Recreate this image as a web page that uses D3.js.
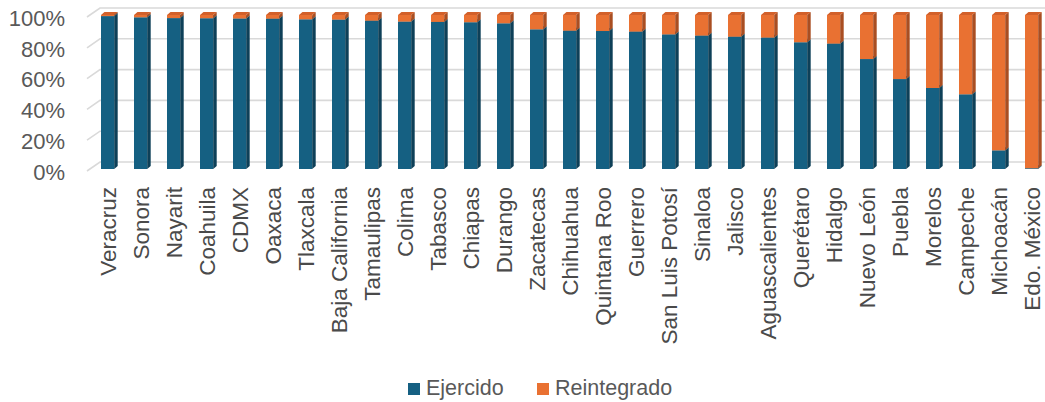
<!DOCTYPE html>
<html>
<head>
<meta charset="utf-8">
<script src="https://cdn.jsdelivr.net/npm/d3@7"></script>
<style>
  html, body { margin: 0; padding: 0; background: #fff; }
  svg { display: block; font-family: "Liberation Sans", Arial, sans-serif; }
</style>
</head>
<body>
<svg id="chart" width="1045" height="402"></svg>
<script>
// ── Data ───────────────────────────────────────────────────────────────────
const estados = [
  "Veracruz", "Sonora", "Nayarit", "Coahuila", "CDMX", "Oaxaca", "Tlaxcala",
  "Baja California", "Tamaulipas", "Colima", "Tabasco", "Chiapas", "Durango",
  "Zacatecas", "Chihuahua", "Quintana Roo", "Guerrero", "San Luis Potosí",
  "Sinaloa", "Jalisco", "Aguascalientes", "Querétaro", "Hidalgo", "Nuevo León",
  "Puebla", "Morelos", "Campeche", "Michoacán", "Edo. México"
];
// % ejercido (the rest is reintegrado)
const ejercido = [
  99.3, 98.5, 98.0, 97.9, 97.7, 97.6, 97.2,
  97.0, 96.3, 95.7, 95.5, 95.3, 94.6,
  90.7, 89.8, 89.6, 89.2, 87.4,
  86.6, 85.9, 85.3, 82.3, 81.4, 71.4,
  58.4, 52.6, 48.5, 12.1, 0.5
];
const reintegrado = ejercido.map(v => 100 - v);
const yTicks = [0, 20, 40, 60, 80, 100];
const series = ["Ejercido", "Reintegrado"];

// ── Setup ──────────────────────────────────────────────────────────────────
const W = 1045, H = 402;
const svg = d3.select("#chart");

const colors = {
  Ejercido:    { front: "#156082", side: "#0e4058", top: "#1b6f95" },
  Reintegrado: { front: "#e97132", side: "#a94e22", top: "#d2602a" },
};
const depth = { dx: 3.5, dy: -3 };     // bar depth
const wall  = { dx: 13, dy: -9 };      // back-wall offset for gridlines

const x = d3.scaleBand()
  .domain(estados)
  .range([84.5, 1054.7])
  .paddingInner(0.6)
  .paddingOuter(0.5);

const y = d3.scaleLinear().domain([0, 100]).range([169, 15]);

// ── Gridlines (3D wall style) ───────────────────────────────────────────────
const gx0 = 87;
svg.append("g")
  .selectAll("path")
  .data(yTicks)
  .join("path")
  .attr("d", t => {
    const yf = y(t) + 2;
    return `M${gx0},${yf} L${gx0 + wall.dx},${yf + wall.dy} L${W},${yf + wall.dy}`;
  })
  .attr("fill", "none")
  .attr("stroke", "#d9d9d9")
  .attr("stroke-width", 1.6);

// ── Y labels ───────────────────────────────────────────────────────────────
svg.append("g")
  .selectAll("text")
  .data(yTicks)
  .join("text")
  .attr("x", 65)
  .attr("y", t => y(t) + 3)
  .attr("dy", "0.35em")
  .attr("text-anchor", "end")
  .attr("font-size", 22)
  .attr("fill", "#595959")
  .text(t => t + "%");

// ── Stacked 3D bars ────────────────────────────────────────────────────────
const rows = estados.map((e, i) => ({ estado: e, Ejercido: ejercido[i], Reintegrado: reintegrado[i] }));
const stacked = d3.stack().keys(series)(rows);

const bw = x.bandwidth();
const layers = svg.append("g")
  .selectAll("g")
  .data(stacked)
  .join("g")
  .attr("data-series", d => d.key);

layers.each(function (layer) {
  const c = colors[layer.key];
  const g = d3.select(this);
  const segs = layer.map(d => ({ estado: d.data.estado, y0: d[0], y1: d[1] }))
    .filter(d => d.y1 - d.y0 > 0.05);

  // front face
  g.selectAll("rect.front")
    .data(segs)
    .join("rect")
    .attr("class", "front")
    .attr("x", d => x(d.estado))
    .attr("y", d => y(d.y1))
    .attr("width", bw)
    .attr("height", d => y(d.y0) - y(d.y1))
    .attr("fill", c.front);

  // right side face
  g.selectAll("path.side")
    .data(segs)
    .join("path")
    .attr("class", "side")
    .attr("d", d => {
      const xr = x(d.estado) + bw, yt = y(d.y1), yb = y(d.y0);
      return `M${xr},${yb} L${xr},${yt} L${xr + depth.dx},${yt + depth.dy} L${xr + depth.dx},${yb + depth.dy} Z`;
    })
    .attr("fill", c.side);

  // top face
  g.selectAll("path.top")
    .data(segs)
    .join("path")
    .attr("class", "top")
    .attr("d", d => {
      const xl = x(d.estado), yt = y(d.y1);
      return `M${xl},${yt} L${xl + bw},${yt} L${xl + bw + depth.dx},${yt + depth.dy} L${xl + depth.dx},${yt + depth.dy} Z`;
    })
    .attr("fill", c.top);
});

// ── Category labels ────────────────────────────────────────────────────────
svg.append("g")
  .selectAll("text")
  .data(estados)
  .join("text")
  .attr("transform", d => `translate(${x(d) + bw / 2 + 1},187) rotate(-90)`)
  .attr("dy", "0.35em")
  .attr("text-anchor", "end")
  .attr("font-size", 22.5)
  .attr("fill", "#4a4a4a")
  .text(d => d);

// ── Legend ─────────────────────────────────────────────────────────────────
const legendX = [408, 537];
const legend = svg.append("g")
  .selectAll("g")
  .data(series)
  .join("g")
  .attr("transform", (d, i) => `translate(${legendX[i]},383)`);

legend.append("rect")
  .attr("width", 12)
  .attr("height", 12)
  .attr("fill", d => colors[d].front);

legend.append("text")
  .attr("x", 18)
  .attr("y", 12)
  .attr("font-size", 21.5)
  .attr("fill", "#595959")
  .text(d => d);
</script>
</body>
</html>
